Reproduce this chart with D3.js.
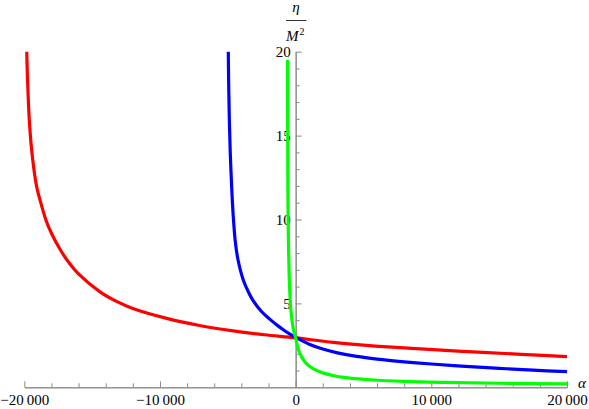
<!DOCTYPE html>
<html><head><meta charset="utf-8">
<script src="https://cdn.jsdelivr.net/npm/d3@7"></script>
<style>
html,body{margin:0;padding:0;background:#fff;}
svg{display:block;}
</style></head>
<body><svg id="c" width="589" height="409"></svg>
<script>
// ---- data ----
const redAlpha  = [-19820,-19760,-19600,-19400,-19100,-18840,-18400,-18000,-17400,-16880,-16000,-14420,-13200,-12000,-9500,-7000,-4600,-2300,0,2770,5230,7720,10140,13820,17000,20000];
const redEta    = [20,18.3,15.5,13.7,12.0,11.16,9.96,9.18,8.27,7.62,6.76,5.69,5.12,4.70,4.11,3.67,3.36,3.13,2.95,2.68,2.50,2.36,2.24,2.08,1.95,1.83];
const blueAlpha = [-4965,-4935,-4890,-4820,-4720,-4600,-4450,-4250,-3860,-3400,-3120,-2500,-1890,-1300,-910,-450,0,1000,2000,3000,4500,6000,8000,10000,12500,15000,17500,20000];
const blueEta   = [20,18,16,14,12,10.2,8.7,7.6,6.4,5.55,5.15,4.5,4.05,3.66,3.43,3.18,2.97,2.57,2.28,2.07,1.84,1.68,1.52,1.39,1.25,1.13,1.02,0.93];
const greenAlpha= [-594,-592,-588,-582,-573,-565,-552,-540,-522,-506,-480,-433,-396,-360,-285,-210,-138,-69,0,100,250,450,700,1000,1500,2000,3000,4000,5500,8000,11000,15000,20000];
const greenEta  = [19.5,18.3,15.5,13.7,12.0,11.16,9.96,9.18,8.27,7.69,6.75,5.70,5.12,4.71,4.11,3.67,3.35,3.13,2.95,2.55,2.15,1.8,1.5,1.27,1.02,0.86,0.66,0.55,0.45,0.35,0.29,0.24,0.2];
const xMajor = [-20000,-10000,0,10000,20000];
const yMajor = [5,10,15,20];
const xLabels = ["\u221220\u2009000","\u221210\u2009000","0","10\u2009000","20\u2009000"];

const svg = d3.select("#c");
const x = d3.scaleLinear().domain([-20000,20000]).range([24.3,567]);
const y = d3.scaleLinear().domain([0,20]).range([387.3,51.7]);
const axisCol = "#8a8a8a";
const serif = "Liberation Serif";

const xMinor = d3.range(-20000,20001,2000).filter(v=>xMajor.indexOf(v)<0);
const yMinor = d3.range(1,20,1).filter(v=>yMajor.indexOf(v)<0);

const gx = svg.append("g").attr("transform",`translate(0,${y(0)})`);
gx.call(d3.axisBottom(x).tickValues(xMinor).tickSize(-4).tickSizeOuter(0).tickFormat(""));
gx.append("g").call(d3.axisBottom(x).tickValues(xMajor).tickSize(-6).tickSizeOuter(0)
   .tickFormat((d,i)=>xLabels[i]).tickPadding(7));
gx.selectAll("path,line").attr("stroke",axisCol).attr("stroke-width",1);
gx.selectAll("g").attr("font-family",serif);
gx.attr("font-family",serif);
gx.selectAll("text").attr("fill","#000").attr("font-size",15).attr("font-family",serif);

const gy = svg.append("g").attr("transform",`translate(${x(0)},0)`);
gy.call(d3.axisLeft(y).tickValues(yMinor).tickSize(-4).tickSizeOuter(0).tickFormat(""));
gy.append("g").call(d3.axisLeft(y).tickValues(yMajor).tickSize(-6).tickSizeOuter(0).tickPadding(5));
gy.selectAll("path,line").attr("stroke",axisCol).attr("stroke-width",1);
gy.selectAll("g").attr("font-family",serif);
gy.attr("font-family",serif);
gy.selectAll("text").attr("fill","#000").attr("font-size",15).attr("font-family",serif);

svg.append("clipPath").attr("id","clip").append("rect")
  .attr("x",0).attr("y",y(20)-1).attr("width",589).attr("height",y(0)-y(20)+10);

const line = d3.line().x(d=>x(d[0])).y(d=>y(d[1])).curve(d3.curveCatmullRom.alpha(0.5));
const series = [
  {a:redAlpha,e:redEta,c:"#ff0000"},
  {a:blueAlpha,e:blueEta,c:"#0000ff"},
  {a:greenAlpha,e:greenEta,c:"#00ff00"}
];
const gl = svg.append("g").attr("clip-path","url(#clip)");
series.forEach(s=>{
  gl.append("path").datum(s.a.map((v,i)=>[v,s.e[i]]))
    .attr("d",line).attr("fill","none").attr("stroke",s.c)
    .attr("stroke-width",3.2).attr("stroke-linejoin","round");
});

svg.append("text").attr("x",x(20000)+15).attr("y",y(0)+1).attr("font-style","italic")
  .attr("font-size",15).attr("text-anchor","middle").attr("fill","#000").attr("font-family",serif).text("\u03b1");
const lab = svg.append("g").attr("font-family",serif);
lab.append("text").attr("x",296).attr("y",12).attr("font-style","italic").attr("font-size",15)
  .attr("text-anchor","middle").attr("fill","#000").text("\u03b7");
lab.append("line").attr("x1",286).attr("x2",306.5).attr("y1",20.5).attr("y2",20.5)
  .attr("stroke","#000").attr("stroke-width",0.8);
const mt = lab.append("text").attr("x",286).attr("y",41).attr("font-size",15).attr("fill","#000");
mt.append("tspan").attr("font-style","italic").text("M");
mt.append("tspan").attr("font-size",10).attr("dy",-6).attr("dx",1).text("2");
</script></body></html>
